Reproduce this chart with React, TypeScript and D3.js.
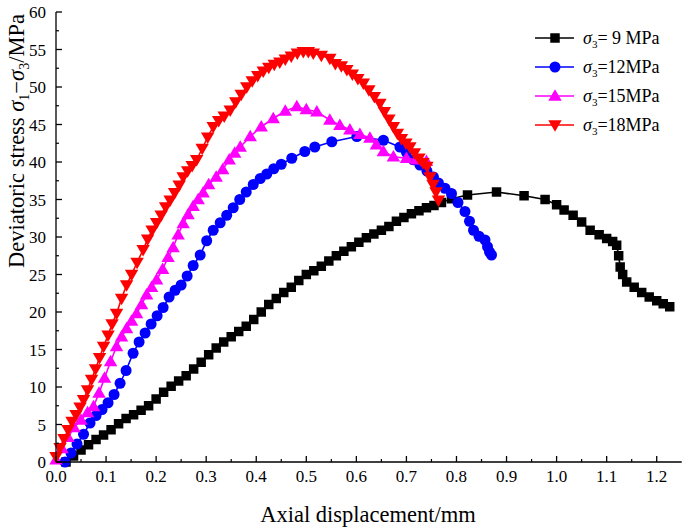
import React from "react";
import * as d3 from "d3";

const xTicks = [0, 0.1, 0.2, 0.3, 0.4, 0.5, 0.6, 0.7, 0.8, 0.9, 1.0, 1.1, 1.2];
const yTicks = [0, 5, 10, 15, 20, 25, 30, 35, 40, 45, 50, 55, 60];

const s9: [number, number][] = [
  [0.02, 0], [0.035, 0.8], [0.05, 1.6], [0.065, 2.3], [0.08, 3.0], [0.095, 3.6], [0.11, 4.3],
  [0.125, 5.1], [0.14, 5.8], [0.155, 6.3], [0.17, 6.9], [0.185, 7.5], [0.2, 8.4], [0.215, 9.3],
  [0.23, 10.1], [0.245, 10.8], [0.26, 11.5], [0.275, 12.4], [0.29, 13.3], [0.305, 14.3], [0.32, 15.2],
  [0.335, 16.0], [0.35, 16.7], [0.365, 17.4], [0.38, 18.1], [0.395, 19.0], [0.41, 20.0], [0.425, 21.0],
  [0.44, 21.8], [0.455, 22.6], [0.47, 23.3], [0.485, 24.2], [0.5, 25.0], [0.515, 25.5], [0.53, 26.1],
  [0.545, 26.8], [0.56, 27.5], [0.575, 28.1], [0.59, 28.7], [0.605, 29.3], [0.62, 29.9], [0.635, 30.4],
  [0.65, 30.9], [0.665, 31.4], [0.68, 32.1], [0.695, 32.6], [0.71, 33.1], [0.725, 33.5], [0.74, 33.9],
  [0.755, 34.2], [0.77, 34.6], [0.79, 35.1], [0.822, 35.6], [0.88, 36.0], [0.935, 35.5], [0.977, 35.0],
  [1.0, 34.3], [1.015, 33.6], [1.033, 32.9], [1.05, 32.0], [1.067, 30.9], [1.085, 30.3], [1.1, 29.8],
  [1.112, 29.4], [1.12, 28.9], [1.124, 27.5], [1.127, 26.0], [1.132, 25.0], [1.14, 24.0], [1.155, 23.3],
  [1.17, 22.6], [1.185, 22.0], [1.2, 21.5], [1.213, 21.1], [1.226, 20.7],
];

const s12: [number, number][] = [
  [0.018, 0], [0.03, 1.2], [0.042, 2.4], [0.055, 3.7], [0.068, 5.2], [0.08, 6.2], [0.092, 7.0],
  [0.104, 7.9], [0.116, 9.0], [0.128, 10.5], [0.14, 12.2], [0.154, 14.5], [0.166, 16.0], [0.178, 17.2],
  [0.19, 18.4], [0.202, 19.5], [0.214, 20.6], [0.226, 22.0], [0.238, 22.9], [0.25, 23.6], [0.262, 24.8],
  [0.274, 26.2], [0.288, 27.6], [0.301, 29.5], [0.314, 30.9], [0.328, 31.9], [0.341, 32.9], [0.354, 33.9],
  [0.367, 35.0], [0.38, 36.0], [0.394, 37.0], [0.408, 37.8], [0.421, 38.4], [0.435, 39.1], [0.45, 39.7],
  [0.471, 40.5], [0.497, 41.4], [0.517, 42.0], [0.551, 42.7], [0.601, 43.4], [0.654, 42.9], [0.687, 42.0],
  [0.7, 41.3], [0.714, 40.3], [0.727, 39.6], [0.741, 38.8], [0.754, 38.0], [0.764, 37.2], [0.777, 36.5],
  [0.79, 35.8], [0.803, 34.6], [0.817, 33.4], [0.826, 32.1], [0.834, 30.9], [0.845, 30.1], [0.857, 29.6],
  [0.862, 28.7], [0.866, 28.0], [0.87, 27.6],
];

const s15: [number, number][] = [
  [0.0, 0.3], [0.012, 1.8], [0.024, 3.3], [0.036, 4.6], [0.05, 5.6], [0.063, 6.6], [0.075, 7.4],
  [0.086, 9.2], [0.097, 11.2], [0.109, 13.4], [0.121, 15.4], [0.131, 16.7], [0.141, 17.8], [0.151, 18.8],
  [0.161, 19.8], [0.171, 21.0], [0.181, 22.3], [0.191, 23.3], [0.201, 24.3], [0.213, 25.7], [0.224, 27.3],
  [0.234, 28.6], [0.244, 30.3], [0.254, 31.8], [0.264, 33.0], [0.274, 34.1], [0.284, 35.0], [0.294, 35.9],
  [0.305, 37.0], [0.32, 38.0], [0.333, 39.0], [0.346, 40.3], [0.357, 41.2], [0.368, 42.0], [0.388, 43.4],
  [0.41, 44.7], [0.434, 45.8], [0.458, 46.8], [0.481, 47.4], [0.5, 47.0], [0.521, 46.7], [0.547, 45.6],
  [0.567, 44.9], [0.587, 44.3], [0.607, 43.7], [0.627, 43.2], [0.64, 42.3], [0.654, 41.4], [0.674, 40.7],
  [0.7, 40.5], [0.72, 40.3], [0.74, 40.1],
];

const s18: [number, number][] = [
  [0.0, 0.7], [0.008, 1.9], [0.016, 3.1], [0.024, 4.3], [0.032, 5.4], [0.04, 6.3], [0.048, 7.3],
  [0.055, 8.3], [0.063, 9.6], [0.071, 11.0], [0.079, 12.4], [0.087, 13.9], [0.095, 15.4], [0.104, 16.9],
  [0.112, 18.4], [0.121, 19.8], [0.131, 21.8], [0.141, 23.6], [0.151, 25.0], [0.162, 26.6], [0.174, 28.3],
  [0.183, 29.7], [0.192, 30.9], [0.201, 31.9], [0.21, 32.9], [0.219, 34.0], [0.228, 34.9], [0.237, 35.9],
  [0.246, 36.9], [0.254, 38.0], [0.263, 38.8], [0.272, 39.5], [0.281, 40.3], [0.292, 41.8], [0.303, 43.3],
  [0.314, 44.7], [0.325, 45.5], [0.336, 46.1], [0.348, 46.9], [0.359, 48.0], [0.37, 49.0], [0.381, 50.0],
  [0.392, 50.8], [0.403, 51.5], [0.414, 52.1], [0.425, 52.6], [0.436, 53.0], [0.447, 53.3], [0.458, 53.7],
  [0.47, 54.1], [0.482, 54.5], [0.494, 54.7], [0.504, 54.7], [0.514, 54.5], [0.53, 54.2], [0.547, 53.8],
  [0.558, 53.1], [0.57, 52.8], [0.581, 52.3], [0.592, 51.7], [0.603, 51.1], [0.614, 50.5], [0.625, 49.6],
  [0.636, 48.7], [0.647, 47.8], [0.656, 46.7], [0.665, 45.7], [0.674, 44.7], [0.682, 43.8], [0.69, 43.1],
  [0.699, 42.5], [0.707, 42.0], [0.716, 41.2], [0.725, 40.5], [0.733, 39.9], [0.741, 39.4], [0.747, 38.0],
  [0.753, 37.0], [0.759, 36.0], [0.764, 34.9],
];

const seriesLabels = ["9 MPa", "12MPa", "15MPa", "18MPa"];
const seriesEq = ["= ", "=", "=", "="];

type Sym = "square" | "circle" | "up" | "down";
const series: { data: [number, number][]; color: string; sym: Sym }[] = [
  { data: s9, color: "#000000", sym: "square" },
  { data: s12, color: "#0000ff", sym: "circle" },
  { data: s15, color: "#ff00ff", sym: "up" },
  { data: s18, color: "#ff0000", sym: "down" },
];

const W = 685, H = 532;
const x = d3.scaleLinear().domain([0, 1.25]).range([56, 681.75]);
const y = d3.scaleLinear().domain([0, 60]).range([462, 12]);
const font = "'Liberation Serif', 'Times New Roman', serif";

function symPath(s: Sym): string {
  const sq = d3.symbol().type(d3.symbolSquare).size(90)();
  const ci = d3.symbol().type(d3.symbolCircle).size(95)();
  const tr = d3.symbol().type(d3.symbolTriangle).size(78)();
  if (s === "square") return sq || "";
  if (s === "circle") return ci || "";
  return tr || "";
}

function Marker({ s, cx, cy, color }: { s: Sym; cx: number; cy: number; color: string }) {
  const rot = s === "down" ? " rotate(180)" : "";
  const dy = s === "up" ? 1 : s === "down" ? -1 : 0;
  return <path d={symPath(s)} transform={`translate(${cx},${cy + dy})${rot}`} fill={color} />;
}

export default function App() {
  const line = d3.line<[number, number]>().x((d) => x(d[0])).y((d) => y(d[1]));
  const xMinor = d3.range(0.05, 1.25, 0.1);
  const yMinor = d3.range(2.5, 60, 5);
  return (
    <svg width={W} height={H} style={{ display: "block", position: "absolute", left: 0, top: 0 }} fontFamily={font}>
      <rect width={W} height={H} fill="#fff" />
      {series.map((s, i) => (
        <g key={i}>
          <path d={line(s.data) || ""} fill="none" stroke={s.color} strokeWidth={1.6} />
          {s.data.map((d, j) => (
            <Marker key={j} s={s.sym} cx={x(d[0])} cy={y(d[1])} color={s.color} />
          ))}
        </g>
      ))}
      <line x1={x(0)} x2={x(1.25)} y1={y(0)} y2={y(0)} stroke="#000" strokeWidth={1.3} />
      <line x1={x(0)} x2={x(0)} y1={y(0)} y2={y(60)} stroke="#000" strokeWidth={1.3} />
      {xTicks.map((t) => (
        <g key={"xt" + t}>
          <line x1={x(t)} x2={x(t)} y1={y(0)} y2={y(0) - 6} stroke="#000" strokeWidth={1.3} />
          <text x={x(t)} y={482} fontSize={17} textAnchor="middle">{d3.format(".1f")(t)}</text>
        </g>
      ))}
      {xMinor.map((t) => (
        <line key={"xm" + t} x1={x(t)} x2={x(t)} y1={y(0)} y2={y(0) - 3} stroke="#000" strokeWidth={1.2} />
      ))}
      {yTicks.map((t) => (
        <g key={"yt" + t}>
          <line x1={x(0)} x2={x(0) + 6} y1={y(t)} y2={y(t)} stroke="#000" strokeWidth={1.3} />
          <text x={46} y={y(t) + 6} fontSize={17} textAnchor="end">{t}</text>
        </g>
      ))}
      {yMinor.map((t) => (
        <line key={"ym" + t} x1={x(0)} x2={x(0) + 3} y1={y(t)} y2={y(t)} stroke="#000" strokeWidth={1.2} />
      ))}
      <text x={368} y={522} fontSize={22.5} textAnchor="middle">Axial displacement/mm</text>
      <text transform="translate(24,141) rotate(-90)" fontSize={22.5} textAnchor="middle">
        Deviatoric stress <tspan fontStyle="italic">σ</tspan>
        <tspan fontSize={14} dy={5}>1</tspan>
        <tspan dy={-5}>−</tspan>
        <tspan fontStyle="italic">σ</tspan>
        <tspan fontSize={14} dy={5}>3</tspan>
        <tspan dy={-5}>/MPa</tspan>
      </text>
      {series.map((s, i) => {
        const ly = 38 + i * 29;
        return (
          <g key={"lg" + i}>
            <line x1={535} x2={574} y1={ly} y2={ly} stroke={s.color} strokeWidth={1.6} />
            <Marker s={s.sym} cx={555} cy={ly} color={s.color} />
            <text x={583} y={ly + 6} fontSize={18}>
              <tspan fontStyle="italic">σ</tspan>
              <tspan fontSize={11} dy={4}>3</tspan>
              <tspan dy={-4}>{seriesEq[i]}{seriesLabels[i]}</tspan>
            </text>
          </g>
        );
      })}
    </svg>
  );
}
